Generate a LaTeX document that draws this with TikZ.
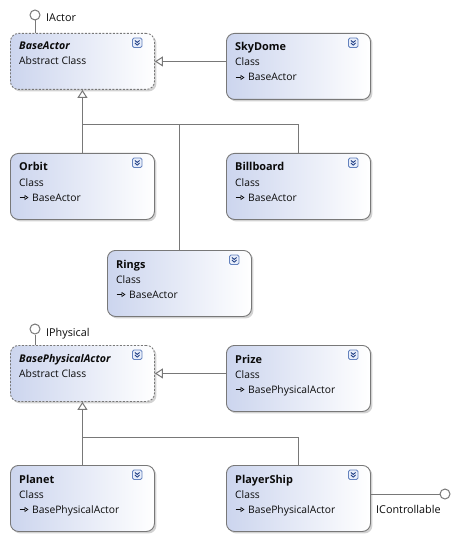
\documentclass[tikz,border=0pt]{standalone}
\usepackage{fontspec}
\setmainfont{Open Sans}
\usetikzlibrary{arrows.meta,shadows}
\definecolor{cbl}{RGB}{204,213,238}
\definecolor{bord}{RGB}{120,120,120}
\definecolor{lin}{RGB}{120,120,120}
\definecolor{icb}{RGB}{100,130,190}
\definecolor{icf}{RGB}{232,238,250}
\definecolor{icc}{RGB}{35,65,135}
\definecolor{txt}{RGB}{10,10,10}
\tikzset{
  boxbase/.style={draw=bord, line width=0.9pt, rounded corners=8pt, anchor=north west,
     left color=cbl, right color=white, minimum width=144pt, inner sep=0pt,
     drop shadow={shadow xshift=2pt, shadow yshift=-2pt, opacity=0.35, fill=gray}},
  clsbox/.style={boxbase, minimum height=66pt},
  absbox/.style={boxbase, minimum height=56pt, dash pattern=on 2pt off 1.5pt},
  ttl/.style={anchor=base west, inner sep=0pt, font=\fontsize{10.9}{12}\selectfont\bfseries, text=txt},
  sub/.style={anchor=base west, inner sep=0pt, font=\fontsize{10.3}{12}\selectfont, text=txt},
  lbl/.style={anchor=base west, inner sep=0pt, font=\fontsize{10.8}{12}\selectfont, text=txt},
  gen/.style={draw=lin, line width=1pt, -{Triangle[open, length=8pt, width=10pt, fill=white]}},
  conn/.style={draw=lin, line width=1pt},
  glyph/.style={draw=txt, line width=0.7pt, -{Triangle[open, length=4pt, width=5pt]}},
  lolli/.style={circle, draw=lin, line width=1pt, fill=white, minimum size=10pt, inner sep=0pt},
  iconbox/.style={draw=icb, fill=icf, line width=0.8pt, rounded corners=1.5pt},
  chev/.style={draw=icc, line width=0.9pt}
}
\newcommand\collapseicon[2]{%
  \draw[iconbox] (#1,#2) rectangle ++(9.5,9.5);
  \draw[chev] (#1+2.4,#2+2.4) -- (#1+4.75,#2+4.5) -- (#1+7.1,#2+2.4);
  \draw[chev] (#1+2.4,#2+5.0) -- (#1+4.75,#2+7.1) -- (#1+7.1,#2+5.0);
}
\newcommand\umlcls[5]{%
  \node[clsbox] (#1) at (#2,#3) {};
  \node[ttl] (#1-t) at (#2+9,#3+18) {#4};
  \node[sub] (#1-k) at (#2+9,#3+33) {Class};
  \coordinate (#1-g1) at (#2+9.5,#3+44.5);
  \coordinate (#1-g2) at (#2+18.5,#3+44.5);
  \draw[glyph] (#1-g1) -- (#1-g2);
  \node[sub] (#1-b) at (#2+22,#3+48) {#5};
  \collapseicon{#2+144-21.5}{#3+5}
}
\newcommand\umlabs[4]{%
  \node[absbox] (#1) at (#2,#3) {};
  \node[ttl, font=\fontsize{10.6}{12}\selectfont\bfseries\itshape] (#1-t) at (#2+9,#3+17) {#4};
  \node[sub] (#1-k) at (#2+9,#3+32) {Abstract Class};
  \collapseicon{#2+144-21.5}{#3+5}
}
\begin{document}
\begin{tikzpicture}[x=1pt, y=-1pt]
  \useasboundingbox[fill=white] (0,0) rectangle (459,540);

  % top group
  \umlabs{baseactor}{10}{33}{BaseActor}
  \umlcls{skydome}{226}{33}{SkyDome}{BaseActor}
  \umlcls{orbit}{10}{153}{Orbit}{BaseActor}
  \umlcls{billboard}{226}{153}{Billboard}{BaseActor}
  \umlcls{rings}{107}{250}{Rings}{BaseActor}

  \node[lolli] (iactor) at (35,15) {};
  \node[lbl] (iactor-l) at (46,22) {IActor};
  \draw[conn] (iactor.south) -- (iactor.south |- baseactor.north);

  \draw[gen] (baseactor.east -| skydome.west) -- (baseactor.east);
  \coordinate (bus1) at (82,125);
  \draw[gen] (orbit.north) -- (baseactor.south);
  \draw[conn] (billboard.north) |- (bus1);
  \draw[conn] (rings.north) -- (rings.north |- bus1);

  % bottom group
  \umlabs{bpa}{10}{345}{BasePhysicalActor}
  \umlcls{prize}{226}{345}{Prize}{BasePhysicalActor}
  \umlcls{planet}{10}{465}{Planet}{BasePhysicalActor}
  \umlcls{playership}{226}{465}{PlayerShip}{BasePhysicalActor}

  \node[lolli] (iphys) at (35,329) {};
  \node[lbl] (iphys-l) at (46,336) {IPhysical};
  \draw[conn] (iphys.south) -- (iphys.south |- bpa.north);

  \draw[gen] (bpa.east -| prize.west) -- (bpa.east);
  \coordinate (bus2) at (82,437);
  \draw[gen] (planet.north) -- (bpa.south);
  \draw[conn] (playership.north) |- (bus2);

  \node[lolli] (ictrl) at (445,494) {};
  \draw[conn] (ictrl -| playership.east) -- (ictrl.west);
  \node[lbl] (ictrl-l) at (376,513) {IControllable};
\end{tikzpicture}
\end{document}
